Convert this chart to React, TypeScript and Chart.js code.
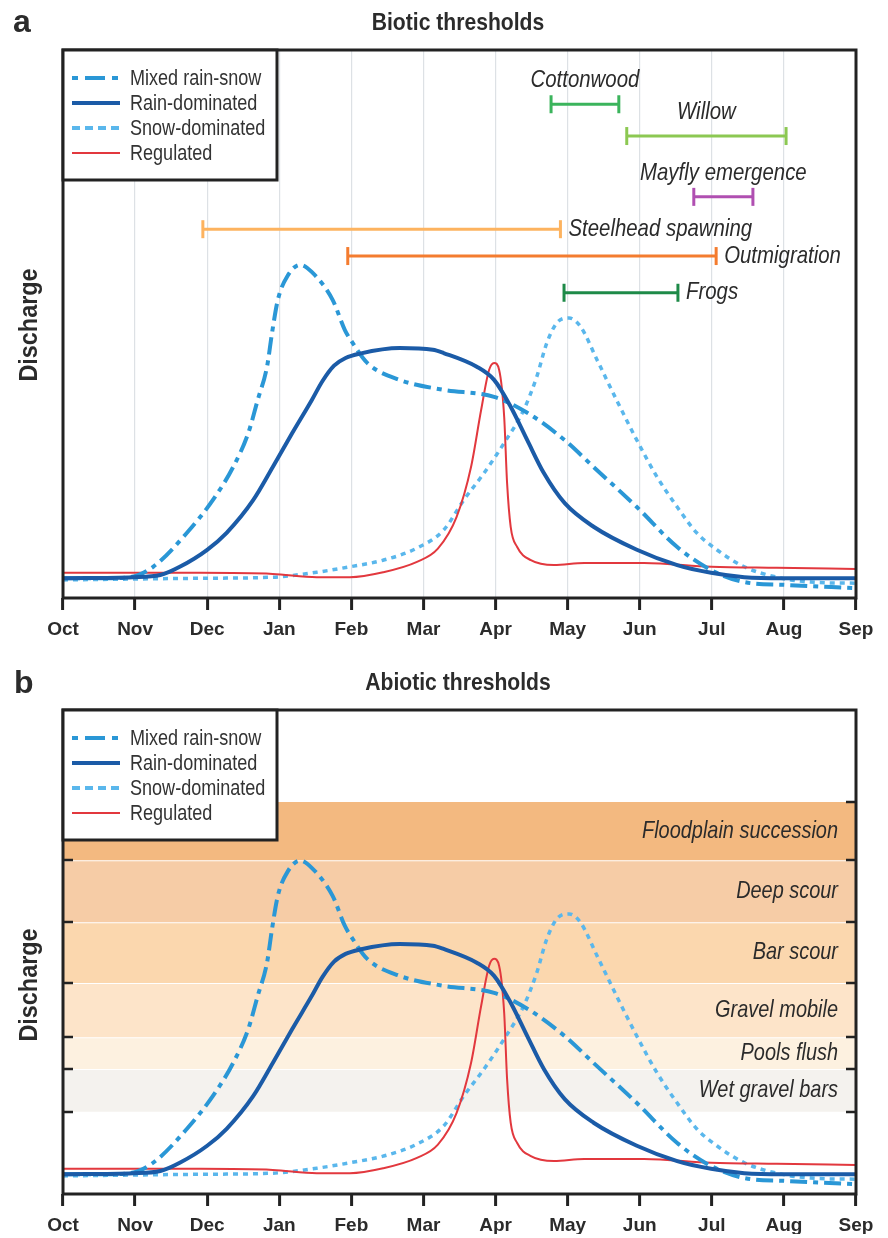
import React, { useEffect, useRef } from "react";
import { Chart, registerables } from "chart.js";

Chart.register(...registerables);

// ---------- DATA ----------
const MONTHS = ["Oct", "Nov", "Dec", "Jan", "Feb", "Mar", "Apr", "May", "Jun", "Jul", "Aug", "Sep"];

// month position (0 = 1 Oct, 11 = 1 Sep) and relative discharge
const mixedMonth = [0, 0.51, 0.93, 1.25, 1.72, 2.08, 2.36, 2.57, 2.7, 2.83, 2.9, 2.98, 3.12, 3.29, 3.45, 3.74, 3.91, 4.02, 4.22, 4.67, 5.27, 5.98, 6.44, 6.96, 7.36, 7.96, 8.52, 8.99, 9.45, 10.0, 11];
const mixedQ = [3.6, 3.6, 3.8, 5.7, 11.9, 17.9, 23.9, 30.1, 36.1, 42.2, 48.4, 54.4, 58.9, 60.8, 59.5, 54.4, 48.9, 46.5, 42.9, 39.8, 38.0, 36.7, 33.8, 28.8, 23.9, 16.6, 9.3, 5.1, 2.9, 2.4, 1.8];

const rainMonth = [0, 0.97, 1.35, 1.62, 2.0, 2.27, 2.64, 2.91, 3.18, 3.45, 3.6, 3.76, 3.92, 4.12, 4.67, 5.13, 5.28, 5.74, 5.98, 6.21, 6.44, 6.67, 6.96, 7.36, 7.96, 8.52, 8.99, 9.45, 10, 11];
const rainQ = [3.6, 3.8, 4.2, 5.7, 8.8, 11.9, 17.9, 23.9, 30.1, 36.1, 39.6, 42.4, 43.8, 44.6, 45.6, 45.3, 44.7, 42.2, 39.8, 34.9, 28.8, 22.8, 17.3, 13.0, 8.8, 6.0, 4.6, 3.8, 3.6, 3.6];

const snowMonth = [0, 1.9, 2.91, 3.52, 3.98, 4.44, 4.91, 5.28, 5.56, 5.84, 6.12, 6.39, 6.57, 6.71, 6.85, 7.02, 7.18, 7.41, 7.68, 7.96, 8.24, 8.52, 8.79, 9.07, 9.45, 9.9, 10.37, 11];
const snowQ = [3.3, 3.6, 3.8, 4.7, 5.7, 6.9, 9.1, 12.4, 17.9, 22.8, 28.3, 34.3, 40.3, 46.5, 50.2, 51.1, 49.5, 43.4, 36.1, 28.8, 22.1, 16.6, 11.9, 8.8, 5.7, 3.8, 2.9, 2.7];

const regMonth = [0, 1.9, 2.91, 3.52, 3.98, 4.44, 4.91, 5.2, 5.46, 5.66, 5.8, 5.91, 5.98, 6.05, 6.12, 6.16, 6.21, 6.3, 6.49, 6.81, 7.23, 8.06, 8.99, 9.9, 11];
const regQ = [4.6, 4.6, 4.4, 3.8, 3.8, 4.7, 6.6, 9.0, 14.8, 23.9, 34.3, 41.6, 42.9, 41.6, 33.0, 21.0, 13.0, 9.3, 6.9, 6.0, 6.4, 6.4, 5.7, 5.5, 5.3];

// biotic thresholds (panel a)
const thresholdNames = ["Cottonwood", "Willow", "Mayfly emergence", "Steelhead spawning", "Outmigration", "Frogs"];
const thresholdStart = [6.77, 7.82, 8.75, 1.94, 3.95, 6.95];
const thresholdEnd = [7.71, 10.03, 9.57, 6.9, 9.06, 8.53];
const thresholdLevel = [90.1, 84.3, 73.2, 67.3, 62.4, 55.7];
const thresholdLabelSide = ["above", "above", "above", "right", "right", "right"];

// abiotic thresholds (panel b)
const bandNames = ["Floodplain succession", "Deep scour", "Bar scour", "Gravel mobile", "Pools flush", "Wet gravel bars"];
const bandTop = [71.5, 60.9, 49.6, 38.5, 28.6, 22.8];
const bandBottom = [60.9, 49.6, 38.5, 28.6, 22.8, 15.0];

// ---------- STYLE ----------
const thresholdColors = ["#3bb45c", "#8cc852", "#b04fb1", "#fdb35f", "#f47c2f", "#1e8a48"];
const bandColors = ["#f3b980", "#f6cca6", "#fbd7ae", "#fde4c9", "#fdf1e0", "#f4f2ee"];
const MIX_COLOR = "#2a97d6";
const RAIN_COLOR = "#1b5ba7";
const SNOW_COLOR = "#5ab7ec";
const REG_COLOR = "#e2383e";
const AXIS = "#222222";
const TEXT = "#2b2b2b";
const SANS = "'Liberation Sans', Arial, Helvetica, sans-serif";

const MIX_DASH = [17, 6, 5, 6];
const SNOW_DASH = [5, 5];

const zip = (xs: number[], ys: number[]) => xs.map((x, i) => ({ x, y: ys[i] }));

const legendItems = [
  { label: "Mixed rain-snow", color: MIX_COLOR, width: 4, dash: [6, 7, 20, 7] },
  { label: "Rain-dominated", color: RAIN_COLOR, width: 4, dash: [] as number[] },
  { label: "Snow-dominated", color: SNOW_COLOR, width: 4, dash: [8, 5] },
  { label: "Regulated", color: REG_COLOR, width: 2, dash: [] as number[] },
];

function curveDatasets() {
  const common = {
    pointRadius: 0,
    fill: false,
    cubicInterpolationMode: "monotone" as const,
    borderCapStyle: "butt" as const,
  };
  return [
    { ...common, label: "Rain-dominated", data: zip(rainMonth, rainQ), borderColor: RAIN_COLOR, borderWidth: 4, order: 1 },
    { ...common, label: "Mixed rain-snow", data: zip(mixedMonth, mixedQ), borderColor: MIX_COLOR, borderWidth: 4, borderDash: MIX_DASH, order: 2 },
    { ...common, label: "Regulated", data: zip(regMonth, regQ), borderColor: REG_COLOR, borderWidth: 2, order: 3 },
    { ...common, label: "Snow-dominated", data: zip(snowMonth, snowQ), borderColor: SNOW_COLOR, borderWidth: 3.5, borderDash: SNOW_DASH, order: 4 },
  ];
}

function thresholdDatasets() {
  return thresholdNames.map((name, i) => ({
    label: name,
    data: [
      { x: thresholdStart[i], y: thresholdLevel[i] },
      { x: thresholdEnd[i], y: thresholdLevel[i] },
    ],
    borderColor: thresholdColors[i],
    borderWidth: 3,
    pointStyle: "line" as const,
    rotation: 90,
    pointRadius: 9,
    pointBorderWidth: 3,
    pointBorderColor: thresholdColors[i],
    pointBackgroundColor: thresholdColors[i],
    fill: false,
    order: 0,
  }));
}

function bandDatasets() {
  return bandNames.map((name, i) => ({
    label: name,
    data: [
      { x: 0, y: bandTop[i] },
      { x: 11, y: bandTop[i] },
    ],
    borderColor: i === 0 ? "rgba(0,0,0,0)" : "#ffffff",
    borderWidth: 2,
    backgroundColor: bandColors[i],
    fill: { value: bandBottom[i] },
    pointRadius: 0,
    order: 50,
  }));
}

type PanelOpts = {
  letter: string;
  title: string;
  titleY: number;
  letterBaseline: number;
  letterX: number;
  yLabelY: number;
  thresholds: boolean;
  bands: boolean;
};

// draws text horizontally condensed (the original uses a condensed typeface)
function condText(ctx: CanvasRenderingContext2D, text: string, x: number, y: number, align: CanvasTextAlign, sx: number) {
  ctx.save();
  ctx.translate(x, y);
  ctx.scale(sx, 1);
  ctx.textAlign = align;
  ctx.fillText(text, 0, 0);
  ctx.restore();
}

function decorPlugin(p: PanelOpts) {
  return {
    id: "decor",
    afterDraw(chart: any) {
      const { ctx, chartArea: ca } = chart;
      const xs = chart.scales.x;
      const ys = chart.scales.y;
      ctx.save();

      if (p.bands) {
        ctx.font = `italic 24px ${SANS}`;
        ctx.fillStyle = TEXT;
        ctx.textBaseline = "middle";
        bandNames.forEach((n, i) => {
          const py = ys.getPixelForValue((bandTop[i] + bandBottom[i]) / 2);
          condText(ctx, n, ca.right - 18, py, "right", 0.83);
        });
        ctx.strokeStyle = AXIS;
        ctx.lineWidth = 2.5;
        const bounds = [bandTop[0], ...bandBottom];
        bounds.forEach((v) => {
          const py = Math.round(ys.getPixelForValue(v));
          ctx.beginPath();
          ctx.moveTo(ca.left, py);
          ctx.lineTo(ca.left + 10, py);
          ctx.moveTo(ca.right - 10, py);
          ctx.lineTo(ca.right, py);
          ctx.stroke();
        });
      }

      if (p.thresholds) {
        ctx.font = `italic 24px ${SANS}`;
        ctx.fillStyle = TEXT;
        ctx.textBaseline = "middle";
        thresholdNames.forEach((n, i) => {
          const py = ys.getPixelForValue(thresholdLevel[i]);
          const x0 = xs.getPixelForValue(thresholdStart[i]);
          const x1 = xs.getPixelForValue(thresholdEnd[i]);
          if (thresholdLabelSide[i] === "above") {
            condText(ctx, n, (x0 + x1) / 2, py - 24, "center", 0.85);
          } else {
            condText(ctx, n, x1 + 8, py, "left", 0.85);
          }
        });
      }

      // frame
      ctx.strokeStyle = AXIS;
      ctx.lineWidth = 3;
      ctx.setLineDash([]);
      ctx.strokeRect(ca.left, ca.top, ca.right - ca.left, ca.bottom - ca.top);

      // legend box
      const lx = ca.left;
      const ly = ca.top;
      const lw = 214;
      const lh = 130;
      ctx.fillStyle = "#ffffff";
      ctx.fillRect(lx, ly, lw, lh);
      ctx.strokeRect(lx, ly, lw, lh);
      ctx.font = `22px ${SANS}`;
      ctx.textBaseline = "middle";
      legendItems.forEach((it, i) => {
        const ry = ly + 28 + i * 25;
        ctx.beginPath();
        ctx.strokeStyle = it.color;
        ctx.lineWidth = it.width;
        ctx.setLineDash(it.dash);
        ctx.moveTo(lx + 9, ry);
        ctx.lineTo(lx + 57, ry);
        ctx.stroke();
        ctx.setLineDash([]);
        ctx.fillStyle = "#333333";
        condText(ctx, it.label, lx + 67, ry + 1, "left", 0.82);
      });

      // title
      ctx.fillStyle = TEXT;
      ctx.font = `bold 24px ${SANS}`;
      ctx.textBaseline = "middle";
      condText(ctx, p.title, 458, p.titleY, "center", 0.88);

      // panel letter
      ctx.font = `bold 32px ${SANS}`;
      ctx.textAlign = "left";
      ctx.textBaseline = "alphabetic";
      ctx.fillText(p.letter, p.letterX, p.letterBaseline);

      // y label
      ctx.save();
      ctx.translate(30, p.yLabelY);
      ctx.rotate(-Math.PI / 2);
      ctx.font = `bold 26px ${SANS}`;
      ctx.textBaseline = "middle";
      condText(ctx, "Discharge", 0, 0, "center", 0.9);
      ctx.restore();

      ctx.restore();
    },
  };
}

function makeConfig(opts: {
  datasets: any[];
  yMax: number;
  padTop: number;
  padBottom: number;
  axisHeight: number;
  grid: boolean;
  panel: PanelOpts;
}) {
  return {
    type: "line" as const,
    data: { datasets: opts.datasets },
    options: {
      animation: false as const,
      responsive: false,
      maintainAspectRatio: false,
      layout: { padding: { left: 63, right: 32, top: opts.padTop, bottom: opts.padBottom } },
      plugins: { legend: { display: false }, tooltip: { enabled: false }, title: { display: false } },
      scales: {
        x: {
          type: "linear" as const,
          min: 0,
          max: 11,
          afterFit: (s: any) => {
            s.height = opts.axisHeight;
          },
          border: { display: false },
          grid: {
            display: true,
            drawOnChartArea: opts.grid,
            color: "#dde1e5",
            lineWidth: 1.2,
            drawTicks: true,
            tickLength: 12,
            tickColor: AXIS,
            tickWidth: 3,
          },
          ticks: {
            stepSize: 1,
            autoSkip: false,
            maxRotation: 0,
            padding: 8,
            color: TEXT,
            font: { family: SANS, size: 19, weight: "bold" as const },
            callback: (v: any) => MONTHS[Math.round(Number(v))] ?? "",
          },
        },
        y: {
          type: "linear" as const,
          display: false,
          min: 0,
          max: opts.yMax,
        },
      },
    },
    plugins: [decorPlugin(opts.panel)],
  };
}

export default function App() {
  const refA = useRef<HTMLCanvasElement | null>(null);
  const refB = useRef<HTMLCanvasElement | null>(null);

  useEffect(() => {
    const charts: Chart[] = [];
    if (refA.current) {
      charts.push(
        new Chart(
          refA.current,
          makeConfig({
            datasets: [...thresholdDatasets(), ...curveDatasets()],
            yMax: 100,
            padTop: 50,
            padBottom: 7,
            axisHeight: 45,
            grid: true,
            panel: {
              letter: "a",
              title: "Biotic thresholds",
              titleY: 23,
              letterBaseline: 32,
              letterX: 13,
              yLabelY: 325,
              thresholds: true,
              bands: false,
            },
          }) as any
        )
      );
    }
    if (refB.current) {
      charts.push(
        new Chart(
          refB.current,
          makeConfig({
            datasets: [...curveDatasets(), ...bandDatasets()],
            yMax: 88.3,
            padTop: 60,
            padBottom: 4,
            axisHeight: 40,
            grid: false,
            panel: {
              letter: "b",
              title: "Abiotic thresholds",
              titleY: 33,
              letterBaseline: 43,
              letterX: 14,
              yLabelY: 335,
              thresholds: false,
              bands: true,
            },
          }) as any
        )
      );
    }
    return () => charts.forEach((c) => c.destroy());
  }, []);

  return (
    <div style={{ position: "absolute", left: 0, top: 0, width: 888, height: 1238, background: "#fff" }}>
      <canvas ref={refA} width={888} height={650} style={{ position: "absolute", left: 0, top: 0, display: "block" }} />
      <canvas ref={refB} width={888} height={588} style={{ position: "absolute", left: 0, top: 650, display: "block" }} />
    </div>
  );
}
